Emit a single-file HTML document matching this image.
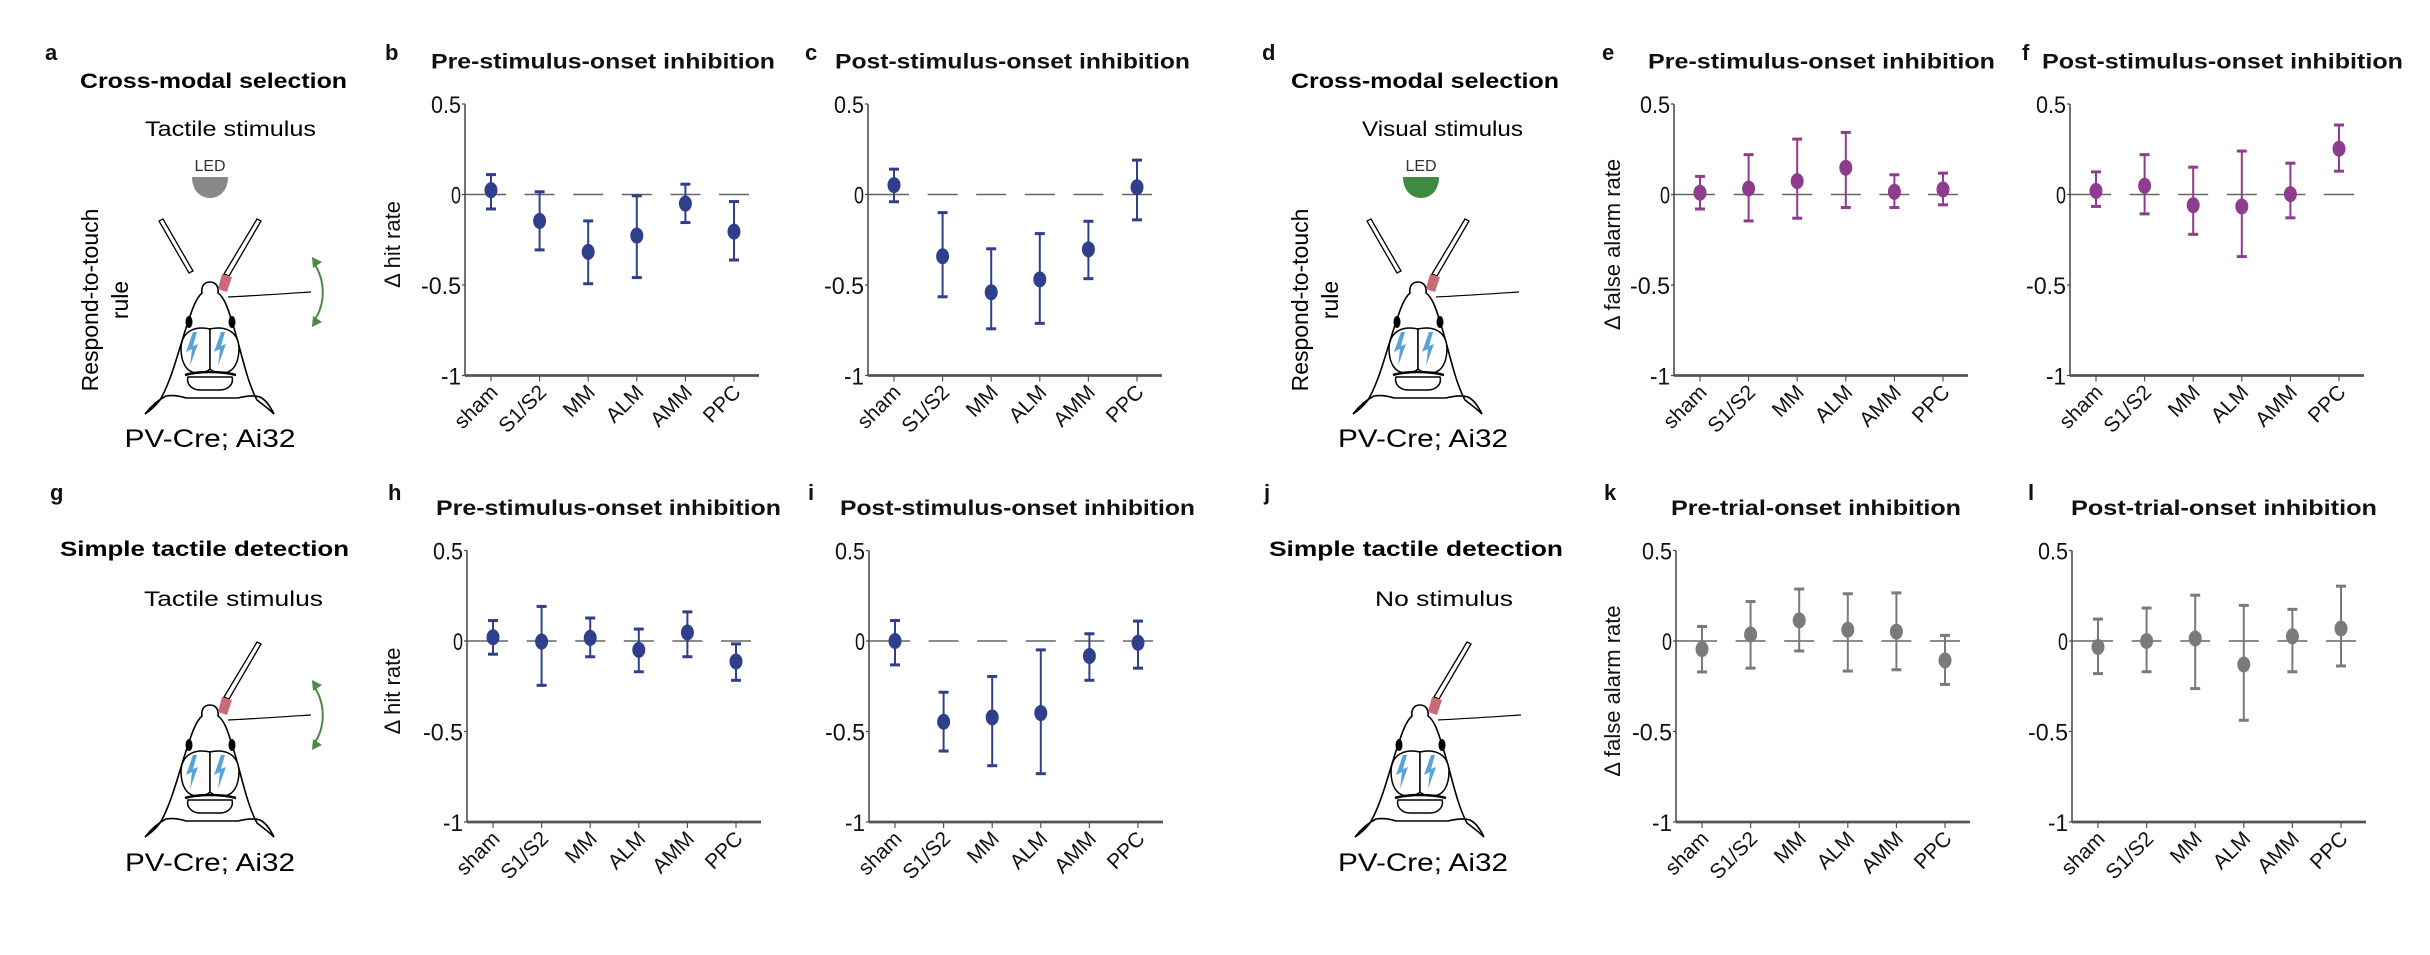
<!DOCTYPE html>
<html><head><meta charset="utf-8">
<style>
html,body{margin:0;padding:0;background:#fff;}
svg{display:block;font-family:"Liberation Sans",Arial,sans-serif;}
</style></head>
<body>
<svg id="fig" width="2430" height="955" viewBox="0 0 2430 955" xmlns="http://www.w3.org/2000/svg">
<defs>
<g id="mouse">
  <path d="M210,282 C203,282 201,288 202,293 C196,298 192,310 188,322 C180,345 172,380 160,400 C154,408 148,412 145,414 C152,405 158,400 166,396 C172,395 180,396 186,398 L238,398 C246,396 254,395 260,397 C266,400 270,406 274,414 C268,408 262,404 257,400 C246,380 240,345 232,322 C228,308 224,297 218,293 C219,287 216,282 210,282 Z" fill="#fff" stroke="#000" stroke-width="1.6"/>
  <ellipse cx="189" cy="322" rx="3.5" ry="6" fill="#000"/>
  <ellipse cx="232" cy="322" rx="3.5" ry="6" fill="#000"/>
  <path d="M210,329 C196,326 182,330 181,348 C181,362 186,373 198,373 C204,373 208,371 210,369 Z" fill="#fff" stroke="#000" stroke-width="1.5"/>
  <path d="M210,329 C224,326 238,330 239,348 C239,362 234,373 222,373 C216,373 212,371 210,369 Z" fill="#fff" stroke="#000" stroke-width="1.5"/>
  <path d="M188,377 L232,377 C234,384 228,390 220,390 L200,390 C192,390 186,384 188,377 Z" fill="#fff" stroke="#000" stroke-width="1.5"/>
  <path d="M185,375 C198,371 222,371 236,375" fill="none" stroke="#000" stroke-width="2.5"/>
  <path d="M193,332 L186,352 L192,349 L190,366 L198,344 L193,346 L197,332 Z" fill="#5ba3d6"/>
  <path d="M221,332 L214,352 L220,349 L218,366 L226,344 L221,346 L225,332 Z" fill="#5ba3d6"/>
  <path d="M228,297 C250,296 280,294 311,292" fill="none" stroke="#000" stroke-width="1.2"/>
</g>
<g id="rfiber">
  <path d="M224,274 L257,219 L261,221 L229,276 Z" fill="#fff" stroke="#000" stroke-width="1.3"/>
  <path d="M222,274 L232,277 L227,292 L218,289 Z" fill="#c86a78"/>
</g>
<g id="lfiber">
  <path d="M159,221 L163,219 L193,271 L189,273 Z" fill="#fff" stroke="#000" stroke-width="1.3"/>
</g>
<g id="arrow">
  <path d="M313,262 C326,280 326,305 313,322" fill="none" stroke="#4a8a45" stroke-width="2"/>
  <path d="M312,257 L322,262 L313,268 Z" fill="#4a8a45"/>
  <path d="M312,327 L322,322 L313,316 Z" fill="#4a8a45"/>
</g>
</defs>

<g font-weight="bold" font-size="22" fill="#111">
<text x="45" y="60">a</text><text x="385" y="60">b</text><text x="805" y="60">c</text>
<text x="1262" y="60">d</text><text x="1602" y="60">e</text><text x="2022" y="60">f</text>
<text x="50" y="500">g</text><text x="388" y="500">h</text><text x="808" y="500">i</text>
<text x="1264" y="500">j</text><text x="1604" y="500">k</text><text x="2028" y="500">l</text>
</g>

<g>
<text x="80" y="88" font-weight="bold" font-size="21" textLength="267" lengthAdjust="spacingAndGlyphs">Cross-modal selection</text>
<text x="145" y="136" font-size="21" textLength="171" lengthAdjust="spacingAndGlyphs">Tactile stimulus</text>
<text x="210" y="171" font-size="16" text-anchor="middle" fill="#333">LED</text>
<path d="M192,177 L228,177 C228,190 220,198 210,198 C200,198 192,190 192,177 Z" fill="#888"/>
<use href="#mouse"/><use href="#lfiber"/><use href="#rfiber"/><use href="#arrow"/>
<text transform="translate(98,300) rotate(-90)" font-size="23" text-anchor="middle">Respond-to-touch</text>
<text transform="translate(128,300) rotate(-90)" font-size="23" text-anchor="middle">rule</text>
<text x="210" y="447" font-size="25" text-anchor="middle" textLength="171" lengthAdjust="spacingAndGlyphs">PV-Cre; Ai32</text>
</g>

<g>
<text x="1291" y="88" font-weight="bold" font-size="21" textLength="268" lengthAdjust="spacingAndGlyphs">Cross-modal selection</text>
<text x="1362" y="136" font-size="21" textLength="161" lengthAdjust="spacingAndGlyphs">Visual stimulus</text>
<text x="1421" y="171" font-size="16" text-anchor="middle" fill="#333">LED</text>
<path d="M1403,177 L1439,177 C1439,190 1431,198 1421,198 C1411,198 1403,190 1403,177 Z" fill="#3e8a3e"/>
<g transform="translate(1208,0)"><use href="#mouse"/><use href="#lfiber"/><use href="#rfiber"/></g>
<text transform="translate(1308,300) rotate(-90)" font-size="23" text-anchor="middle">Respond-to-touch</text>
<text transform="translate(1338,300) rotate(-90)" font-size="23" text-anchor="middle">rule</text>
<text x="1423" y="447" font-size="25" text-anchor="middle" textLength="170" lengthAdjust="spacingAndGlyphs">PV-Cre; Ai32</text>
</g>

<g>
<text x="60" y="556" font-weight="bold" font-size="21" textLength="289" lengthAdjust="spacingAndGlyphs">Simple tactile detection</text>
<text x="144" y="606" font-size="21" textLength="179" lengthAdjust="spacingAndGlyphs">Tactile stimulus</text>
<g transform="translate(0,423)"><use href="#mouse"/><use href="#rfiber"/><use href="#arrow"/></g>
<text x="210" y="871" font-size="25" text-anchor="middle" textLength="170" lengthAdjust="spacingAndGlyphs">PV-Cre; Ai32</text>
</g>

<g>
<text x="1269" y="556" font-weight="bold" font-size="21" textLength="294" lengthAdjust="spacingAndGlyphs">Simple tactile detection</text>
<text x="1375" y="606" font-size="21" textLength="138" lengthAdjust="spacingAndGlyphs">No stimulus</text>
<g transform="translate(1210,423)"><use href="#mouse"/><use href="#rfiber"/></g>
<text x="1423" y="871" font-size="25" text-anchor="middle" textLength="170" lengthAdjust="spacingAndGlyphs">PV-Cre; Ai32</text>
</g>

<g id="charts"></g>
</svg>

<script>
const categories = ["sham","S1/S2","MM","ALM","AMM","PPC"];
const yTicks = [0.5, 0, -0.5, -1];
const yTickLabels = ["0.5","0","-0.5","-1"];

const bMean = [0.024,-0.146,-0.317,-0.227,-0.05,-0.205];
const bHi   = [0.11,0.015,-0.146,-0.007,0.057,-0.039];
const bLo   = [-0.08,-0.306,-0.493,-0.459,-0.155,-0.362];

const cMean = [0.052,-0.341,-0.54,-0.469,-0.303,0.04];
const cHi   = [0.14,-0.1,-0.30,-0.216,-0.148,0.19];
const cLo   = [-0.04,-0.565,-0.742,-0.712,-0.465,-0.14];

const eMean = [0.01,0.033,0.074,0.148,0.015,0.028];
const eHi   = [0.10,0.22,0.306,0.343,0.109,0.118];
const eLo   = [-0.08,-0.146,-0.131,-0.072,-0.072,-0.057];

const fMean = [0.02,0.048,-0.059,-0.066,0.002,0.253];
const fHi   = [0.125,0.22,0.151,0.24,0.173,0.384];
const fLo   = [-0.066,-0.107,-0.22,-0.343,-0.129,0.129];

const hMean = [0.021,-0.003,0.017,-0.049,0.047,-0.113];
const hHi   = [0.113,0.191,0.127,0.066,0.161,-0.016];
const hLo   = [-0.073,-0.245,-0.087,-0.17,-0.087,-0.217];

const iMean = [0,-0.446,-0.422,-0.398,-0.083,-0.01];
const iHi   = [0.113,-0.283,-0.196,-0.049,0.04,0.11];
const iLo   = [-0.132,-0.608,-0.689,-0.733,-0.217,-0.15];

const kMean = [-0.045,0.036,0.114,0.062,0.052,-0.107];
const kHi   = [0.08,0.218,0.287,0.261,0.266,0.031];
const kLo   = [-0.171,-0.15,-0.055,-0.166,-0.159,-0.24];

const lMean = [-0.033,0,0.014,-0.13,0.026,0.069];
const lHi   = [0.121,0.182,0.253,0.197,0.175,0.303];
const lLo   = [-0.18,-0.17,-0.263,-0.438,-0.17,-0.138];

const NS = "http://www.w3.org/2000/svg";
const root = document.getElementById("charts");
function mk(tag, attrs, parent){
  const e = document.createElementNS(NS, tag);
  for (const k in attrs) e.setAttribute(k, attrs[k]);
  (parent||root).appendChild(e);
  return e;
}

const BLUE="#2f3f8c", PURPLE="#8e3d8e", GRAY="#7a7a7a";
const panels = [
  {id:"b", ax:465, y0:194.5, color:BLUE, mean:bMean, hi:bHi, lo:bLo, title:"Pre-stimulus-onset inhibition", tx:431, tw:344, ylab:"Δ hit rate", ylx:400},
  {id:"c", ax:868, y0:194.5, color:BLUE, mean:cMean, hi:cHi, lo:cLo, title:"Post-stimulus-onset inhibition", tx:835, tw:355},
  {id:"e", ax:1674, y0:194.5, color:PURPLE, mean:eMean, hi:eHi, lo:eLo, title:"Pre-stimulus-onset inhibition", tx:1648, tw:347, ylab:"Δ false alarm rate", ylx:1620},
  {id:"f", ax:2070, y0:194.5, color:PURPLE, mean:fMean, hi:fHi, lo:fLo, title:"Post-stimulus-onset inhibition", tx:2042, tw:361},
  {id:"h", ax:467, y0:641, color:BLUE, mean:hMean, hi:hHi, lo:hLo, title:"Pre-stimulus-onset inhibition", tx:436, tw:345, ylab:"Δ hit rate", ylx:400},
  {id:"i", ax:869, y0:641, color:BLUE, mean:iMean, hi:iHi, lo:iLo, title:"Post-stimulus-onset inhibition", tx:840, tw:355},
  {id:"k", ax:1676, y0:641, color:GRAY, mean:kMean, hi:kHi, lo:kLo, title:"Pre-trial-onset inhibition", tx:1671, tw:290, ylab:"Δ false alarm rate", ylx:1620},
  {id:"l", ax:2072, y0:641, color:GRAY, mean:lMean, hi:lHi, lo:lLo, title:"Post-trial-onset inhibition", tx:2071, tw:306}
];

const UNIT = 181, FIRST = 26, STEP = 48.6, AXLEN = 294;

panels.forEach(p => {
  const g = mk("g", {});
  
  
  const y = v => p.y0 - v*UNIT;
  const x = i => p.ax + FIRST + i*STEP;
  const t = mk("text", {x:p.tx, y:p.y0-126, "font-weight":"bold", "font-size":"21", textLength:p.tw, lengthAdjust:"spacingAndGlyphs", fill:"#111"}, g);
  t.textContent = p.title;
  
  
  categories.forEach((c,i) => {
    const x1 = i===0 ? p.ax : x(i)-15;
    const d = mk("line", {x1:x1, x2:x(i)+15, y1:y(0), y2:y(0), stroke:"#666", "stroke-width":"1.6"}, g);
    
    
  });
  const ya = mk("line", {x1:p.ax, x2:p.ax, y1:y(0.5), y2:y(-1), stroke:"#444", "stroke-width":"1.5"}, g);
  
  
  const xa = mk("line", {x1:p.ax, x2:p.ax+AXLEN, y1:y(-1), y2:y(-1), stroke:"#555", "stroke-width":"2.8"}, g);
  
  
  yTicks.forEach((v,j) => {
    mk("line", {x1:p.ax-3, x2:p.ax, y1:y(v), y2:y(v), stroke:"#444", "stroke-width":"1.2"}, g);
    const tl = mk("text", {x:p.ax-4, y:y(v)+9, "font-size":"24", "text-anchor":"end", fill:"#111", textLength: yTickLabels[j].length*10, lengthAdjust:"spacingAndGlyphs"}, g);
    tl.textContent = yTickLabels[j];
    
    
  });
  if (p.ylab){
    const yl = mk("text", {transform:`translate(${p.ylx},${p.y0+50}) rotate(-90)`, "font-size":"22", "text-anchor":"middle", fill:"#111"}, g);
    yl.textContent = p.ylab;
    
    
  }
  categories.forEach((c,i) => {
    mk("line", {x1:x(i), x2:x(i), y1:y(-1), y2:y(-1)+6, stroke:"#555", "stroke-width":"1.2"}, g);
    const xl = mk("text", {transform:`translate(${x(i)+8},${y(-1)+18}) rotate(-45)`, "font-size":"21", "text-anchor":"end", fill:"#111"}, g);
    xl.textContent = c;
    
    
  });
  categories.forEach((c,i) => {
    const eb = mk("g", {stroke:p.color, "stroke-width":"2"}, g);
    
    
    mk("line", {x1:x(i), x2:x(i), y1:y(p.hi[i]), y2:y(p.lo[i])}, eb);
    mk("line", {x1:x(i)-5, x2:x(i)+5, y1:y(p.hi[i]), y2:y(p.hi[i]), "stroke-width":"3"}, eb);
    mk("line", {x1:x(i)-5, x2:x(i)+5, y1:y(p.lo[i]), y2:y(p.lo[i]), "stroke-width":"3"}, eb);
    const pt = mk("ellipse", {cx:x(i), cy:y(p.mean[i]), rx:6.5, ry:8, fill:p.color}, g);
    
    
  });
});
</script>
</body></html>
